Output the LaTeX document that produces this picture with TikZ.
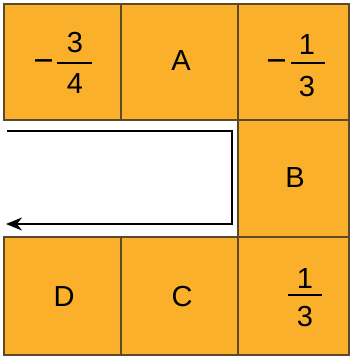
\documentclass[tikz,border=0pt]{standalone}
\usepackage{fontspec}
\setmainfont{Liberation Sans}
\usetikzlibrary{arrows.meta}
\definecolor{turuncu}{RGB}{250,176,42}
\definecolor{kenar}{RGB}{92,72,42}
\begin{document}
\begin{tikzpicture}[x=1pt,y=-1pt,
  hucre/.style={fill=turuncu,draw=kenar,line width=1.2pt},
  yazi/.style={font=\fontsize{29}{33}\selectfont,inner sep=0pt},
  eksi/.style={font=\fontsize{35}{40}\selectfont,inner sep=0pt,anchor=base},
  kesir/.style={line width=1.8pt}]

  %----------------------
  % Ölçüler
  %----------------------
  \def\xa{4}     % sol kenar
  \def\xb{121}   % 1. çizgi
  \def\xc{238}   % 2. çizgi
  \def\xd{349}   % sağ kenar
  \def\ya{4}     % üst kenar
  \def\yb{120}
  \def\yc{237}
  \def\yd{355}   % alt kenar

  \useasboundingbox (0,0) rectangle (350,357);

  % Üst satır
  \draw[hucre] (\xa,\ya) rectangle (\xb,\yb);
  \draw[hucre] (\xb,\ya) rectangle (\xc,\yb);
  \draw[hucre] (\xc,\ya) rectangle (\xd,\yb);

  % Orta satır (sadece B)
  \draw[hucre] (\xc,\yb) rectangle (\xd,\yc);

  % Alt satır
  \draw[hucre] (\xa,\yc) rectangle (\xb,\yd);
  \draw[hucre] (\xb,\yc) rectangle (\xc,\yd);
  \draw[hucre] (\xc,\yc) rectangle (\xd,\yd);

  %----------------------
  % Yol (ok)
  %----------------------
  \coordinate (y1) at (7,131);
  \coordinate (y2) at (232,131);
  \coordinate (y3) at (232,224);
  \coordinate (y4) at (6,224);
  \draw[-{Stealth[length=16pt,width=13pt,inset=5pt]},line width=1.3pt]
    (y1) -- (y2) -- (y3) -- (y4);

  % Harfler
  \node[yazi] (A) at (181,61) {A};
  \node[yazi] (B) at (295,178) {B};
  \node[yazi] (C) at (182,297) {C};
  \node[yazi] (D) at (64,297) {D};

  % -3/4
  \node[eksi] (e1) at (43.5,72.3) {−};
  \coordinate (k1a) at (57,63);
  \coordinate (k1b) at (92,63);
  \draw[kesir] (k1a) -- (k1b);
  \node[yazi] (p1) at (75,43) {3};
  \node[yazi] (q1) at (75,84) {4};

  % -1/3
  \node[eksi] (e2) at (276.5,72.3) {−};
  \coordinate (k2a) at (291,63);
  \coordinate (k2b) at (325,63);
  \draw[kesir] (k2a) -- (k2b);
  \node[yazi] (p2) at (307,45) {1};
  \node[yazi] (q2) at (307,87) {3};

  % 1/3
  \coordinate (k3a) at (288,295);
  \coordinate (k3b) at (322,295);
  \draw[kesir] (k3a) -- (k3b);
  \node[yazi] (p3) at (305,279) {1};
  \node[yazi] (q3) at (305,317) {3};

\end{tikzpicture}
\end{document}
